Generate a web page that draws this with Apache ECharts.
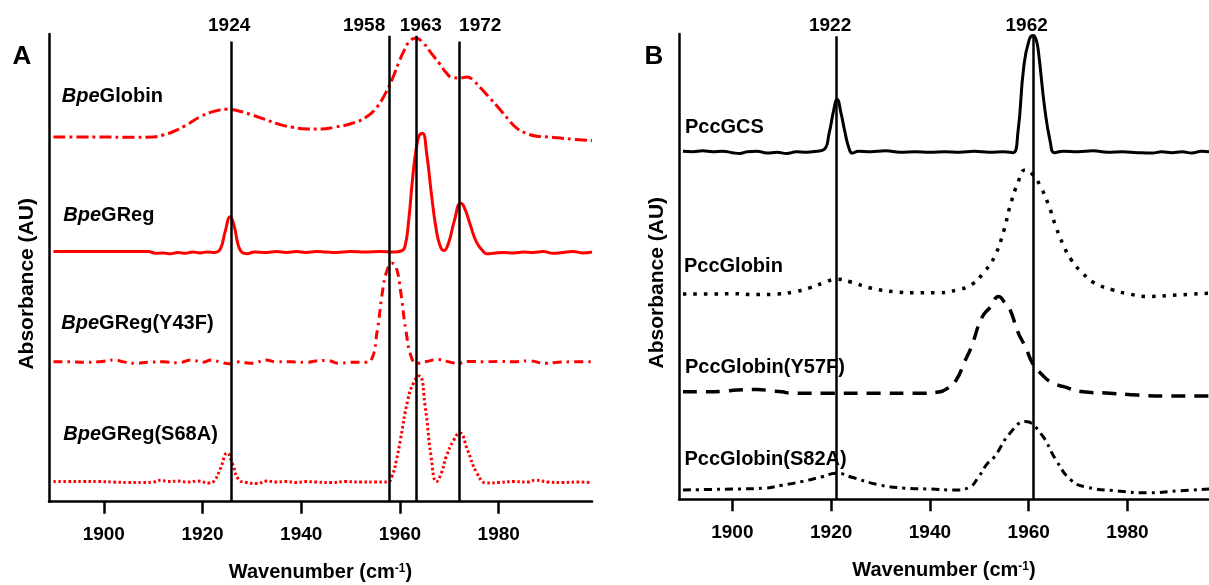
<!DOCTYPE html>
<html>
<head>
<meta charset="utf-8">
<script src="https://cdn.jsdelivr.net/npm/echarts@6/dist/echarts.min.js"></script>
<style>
html,body{margin:0;padding:0;background:#fff;}
#chart{width:1209px;height:585px;}
</style>
</head>
<body>
<div id="chart"></div>
<script>
// ---------- DATA ----------
const tickValues = [1900, 1920, 1940, 1960, 1980];

// Panel A : [wavenumber (cm-1), absorbance (AU, offset)]
const bpeGlobin = [[1889.8,7.80],[1895,7.80],[1900,7.80],[1905,7.79],[1910,7.80],[1912,7.84],[1914,7.91],[1916.5,8.04],[1919.5,8.23],[1922.5,8.35],[1925,8.39],[1927.5,8.35],[1929.7,8.28],[1932.5,8.18],[1935.2,8.08],[1938,8.01],[1941.4,7.97],[1944,7.97],[1946.9,8.01],[1950,8.08],[1953.1,8.22],[1955.2,8.42],[1957,8.72],[1958.5,9.05],[1959.8,9.40],[1960.9,9.66],[1962,9.85],[1963.2,9.91],[1964.8,9.80],[1966.4,9.58],[1968,9.37],[1969.3,9.18],[1970.6,9.07],[1972,9.06],[1973.7,9.08],[1975,8.99],[1976.4,8.84],[1978.3,8.62],[1980.3,8.38],[1982,8.17],[1983.4,8.01],[1985.5,7.88],[1988.1,7.81],[1990,7.80],[1992,7.78],[1995,7.75],[1998.9,7.72]];
const bpeGReg = [[1889.8,5.35],[1895,5.35],[1900,5.35],[1905,5.35],[1909,5.35],[1910.5,5.31],[1912,5.32],[1913.5,5.30],[1915,5.33],[1916.5,5.31],[1918,5.34],[1919.5,5.32],[1921,5.34],[1922.5,5.33],[1923.6,5.40],[1924.6,5.78],[1925.6,6.09],[1926.4,5.90],[1927.2,5.50],[1928,5.33],[1929,5.30],[1930.5,5.34],[1933,5.33],[1935,5.35],[1937,5.33],[1939,5.35],[1941,5.33],[1943,5.35],[1945,5.34],[1947,5.33],[1950,5.35],[1953,5.34],[1956,5.35],[1959,5.34],[1960.2,5.36],[1961.0,5.45],[1961.8,6.05],[1962.5,6.85],[1963.3,7.55],[1964.1,7.86],[1964.6,7.87],[1965.4,7.45],[1966.4,6.55],[1967.3,5.85],[1968.1,5.48],[1968.9,5.37],[1969.8,5.52],[1971,6.00],[1972.3,6.38],[1973,6.30],[1974.3,5.90],[1975.5,5.55],[1976.8,5.36],[1977.6,5.30],[1979,5.31],[1981,5.33],[1983,5.32],[1985,5.34],[1987,5.33],[1989,5.35],[1991,5.31],[1993,5.33],[1995,5.35],[1997,5.32],[1998.9,5.34]];
const bpeGRegY43F = [[1889.8,2.99],[1893,2.99],[1896,2.98],[1899,2.99],[1902.2,3.03],[1904,2.99],[1906.2,2.96],[1909,2.98],[1912,2.99],[1915,2.97],[1917.8,3.03],[1920,2.98],[1921.8,3.03],[1923.5,2.99],[1925.4,2.95],[1927.5,2.99],[1929.6,2.96],[1931,2.98],[1932.7,3.03],[1935,2.99],[1938,2.99],[1941,2.98],[1943,3.01],[1945.3,3.02],[1947.6,2.96],[1950,2.98],[1953,2.98],[1954.2,3.03],[1955.4,3.66],[1956.5,4.52],[1957.4,4.95],[1958.4,5.10],[1959.2,5.02],[1960.1,4.52],[1961.2,3.66],[1962.4,3.06],[1963.5,2.96],[1965,2.99],[1967.9,3.04],[1969.5,3.00],[1971.8,2.96],[1974,3.00],[1977,2.99],[1980,3.00],[1983,2.99],[1986,3.01],[1989.6,2.96],[1992,2.98],[1995,2.99],[1998.9,2.99]];
const bpeGRegS68A = [[1889.8,0.43],[1893,0.43],[1896,0.43],[1899,0.43],[1902,0.42],[1905,0.41],[1908,0.41],[1910,0.42],[1911.6,0.46],[1913,0.43],[1915,0.44],[1917,0.42],[1919,0.44],[1921.4,0.40],[1922.4,0.45],[1923.6,0.70],[1925,1.04],[1926.1,0.80],[1927.3,0.48],[1929,0.41],[1931,0.39],[1933,0.44],[1935,0.42],[1937,0.43],[1939,0.41],[1941,0.43],[1943,0.42],[1946,0.41],[1949,0.43],[1952,0.42],[1955,0.42],[1957.5,0.42],[1958.4,0.55],[1959.3,0.90],[1960.1,1.33],[1961.6,2.18],[1962.8,2.55],[1963.9,2.69],[1965.1,2.04],[1966.3,0.97],[1967.4,0.43],[1968.4,0.62],[1969.4,0.97],[1970.8,1.30],[1972.1,1.47],[1973.7,1.10],[1975.6,0.61],[1977.6,0.40],[1980,0.41],[1983,0.43],[1986,0.42],[1987.5,0.46],[1990,0.42],[1993,0.41],[1996,0.42],[1998.9,0.41]];

// Panel B
const pccGCS = [[1890,7.48],[1892,7.47],[1894,7.49],[1896,7.47],[1898,7.48],[1900,7.45],[1901.5,7.43],[1903,7.47],[1905,7.48],[1907,7.44],[1909,7.46],[1911,7.43],[1913,7.47],[1915,7.46],[1917,7.48],[1918.6,7.52],[1919.6,7.87],[1920.5,8.35],[1921.2,8.60],[1922,8.30],[1922.7,7.94],[1923.6,7.55],[1924.3,7.44],[1925.5,7.48],[1928,7.47],[1931,7.49],[1934,7.46],[1937,7.47],[1940,7.46],[1943,7.47],[1946,7.46],[1949,7.48],[1952,7.46],[1955,7.47],[1956.8,7.45],[1957.8,7.87],[1959,9.30],[1960.1,9.88],[1960.9,9.97],[1961.5,9.88],[1962.0,9.59],[1963.2,8.44],[1964.4,7.66],[1965.2,7.45],[1967,7.48],[1970,7.47],[1973,7.49],[1976,7.46],[1979,7.47],[1982,7.45],[1985,7.44],[1987,7.47],[1989,7.45],[1991,7.47],[1993,7.44],[1995,7.48],[1996.5,7.47]];
const pccGlobin = [[1890,4.41],[1895,4.41],[1900,4.42],[1905,4.40],[1909,4.41],[1912.6,4.46],[1915.5,4.54],[1918.5,4.65],[1921,4.73],[1924,4.67],[1928,4.54],[1933,4.46],[1937.5,4.44],[1942,4.44],[1945.5,4.50],[1948.4,4.61],[1951,4.89],[1953.1,5.22],[1955,5.79],[1956.2,6.29],[1957.8,6.80],[1959.3,7.08],[1960.8,6.98],[1962.4,6.72],[1964,6.33],[1965.5,5.86],[1967,5.47],[1968.6,5.15],[1971,4.85],[1973.3,4.65],[1977,4.50],[1980,4.42],[1984.2,4.36],[1990,4.39],[1996.5,4.43]];
const pccGlobinY57F = [[1890,2.31],[1895,2.31],[1898,2.32],[1901,2.35],[1905,2.36],[1908,2.33],[1910,2.31],[1912,2.28],[1920,2.28],[1930,2.28],[1938,2.28],[1941.4,2.30],[1943.5,2.38],[1945.3,2.56],[1947,2.95],[1948.4,3.28],[1950.5,3.90],[1952.3,4.14],[1953.9,4.36],[1955.2,4.22],[1956.2,4.08],[1957.8,3.60],[1959.3,3.28],[1960.9,2.90],[1962.4,2.71],[1964.5,2.52],[1967.1,2.42],[1971,2.31],[1976.4,2.28],[1982,2.24],[1988,2.22],[1996.5,2.22]];
const pccGlobinS82A = [[1890,0.20],[1895,0.21],[1900,0.22],[1906.4,0.24],[1910,0.30],[1914,0.38],[1918,0.48],[1921.2,0.56],[1924,0.48],[1929.7,0.31],[1935,0.24],[1940,0.22],[1945.3,0.20],[1948,0.26],[1949.9,0.49],[1951.5,0.75],[1953.1,0.92],[1956.2,1.42],[1959.3,1.67],[1962.4,1.42],[1965.5,0.85],[1968.6,0.41],[1971.8,0.26],[1978,0.18],[1984.2,0.14],[1990,0.18],[1996.5,0.22]];

// reference lines (label text, wavenumber position, top of line in AU)
const markLabelsA = ['1924', '1958', '1963', '1972'];
const markPosA = [1925.8, 1957.8, 1963.2, 1972.0];
const markTopA = [9.84, 9.96, 9.96, 9.84];
const markLabelsB = ['1922', '1962'];
const markPosB = [1921.0, 1961.0];
const markTopB = [9.95, 9.95];

const seriesNamesA = ['BpeGlobin', 'BpeGReg', 'BpeGReg(Y43F)', 'BpeGReg(S68A)'];
const seriesNamesB = ['PccGCS', 'PccGlobin', 'PccGlobin(Y57F)', 'PccGlobin(S82A)'];

// ---------- LAYOUT / STYLE ----------
const FONT = '"Liberation Sans", Arial, Helvetica, sans-serif';
const RED = '#ff0000';
const BLACK = '#000000';
const labelAnchorsA = [[1891.5, 8.67], [1891.8, 6.13], [1891.4, 3.81], [1891.8, 1.43]];
const labelAnchorsB = [[1890.4, 7.99], [1890.2, 5.00], [1890.4, 2.84], [1890.3, 0.85]];
const markLabelOffsetA = [-2, -25, 5, 21];
const markLabelOffsetB = [-6, -7];

const chart = echarts.init(document.getElementById('chart'), null, {renderer: 'canvas'});

function xAxisCfg(gridIndex, min, max) {
  return {
    type: 'value', gridIndex, min, max,
    axisLine: {show: true, lineStyle: {color: BLACK, width: 2.5}},
    axisTick: {show: true, inside: false, length: 12, customValues: tickValues, lineStyle: {color: BLACK, width: 2.5}},
    axisLabel: {show: true, customValues: tickValues, margin: 24, color: BLACK, fontFamily: FONT, fontWeight: 'bold', fontSize: 19,
      formatter: v => String(v)},
    splitLine: {show: false},
    name: 'Wavenumber (cm{sup|-1})',
    nameLocation: 'middle', nameGap: 61,
    nameTextStyle: {color: BLACK, fontFamily: FONT, fontWeight: 'bold', fontSize: 20,
      rich: {sup: {fontSize: 12, fontWeight: 'bold', fontFamily: FONT, color: BLACK, verticalAlign: 'top', padding: [0, 0, 8, 0]}}}
  };
}
function yAxisCfg(gridIndex) {
  return {
    type: 'value', gridIndex, min: 0, max: 10,
    axisLine: {show: true, lineStyle: {color: BLACK, width: 2.5}},
    axisTick: {show: false}, axisLabel: {show: false}, splitLine: {show: false},
    name: 'Absorbance (AU)', nameLocation: 'middle', nameGap: 11,
    nameTextStyle: {color: BLACK, fontFamily: FONT, fontWeight: 'bold', fontSize: 21, padding: [0, 32, 0, 0]}
  };
}
function lineSeries(name, data, axis, color, width, dash) {
  return {
    name, type: 'line', data, xAxisIndex: axis, yAxisIndex: axis,
    showSymbol: false, smooth: 0.5, animation: false, z: 2,
    lineStyle: {color, width, type: dash, cap: 'butt', join: 'round'}
  };
}
function markSeries(axis, pos, top) {
  return {
    type: 'line', data: [], xAxisIndex: axis, yAxisIndex: axis, z: 5, animation: false, silent: true,
    markLine: {
      silent: true, symbol: ['none', 'none'], animation: false, label: {show: false},
      lineStyle: {color: BLACK, width: 2.5, type: 'solid'},
      data: pos.map((p, i) => [{coord: [p, top[i]]}, {coord: [p, 0]}])
    }
  };
}

chart.setOption({
  backgroundColor: '#ffffff',
  animation: false,
  grid: [
    {left: 49, top: 34, width: 543, height: 467.7, containLabel: false, outerBoundsMode: 'none'},
    {left: 679, top: 34, width: 530, height: 465.3, containLabel: false, outerBoundsMode: 'none'}
  ],
  xAxis: [xAxisCfg(0, 1888.9, 1998.9), xAxisCfg(1, 1889.2, 1996.5)],
  yAxis: [yAxisCfg(0), yAxisCfg(1)],
  series: [
    lineSeries(seriesNamesA[0], bpeGlobin, 0, RED, 3, [12, 4, 3, 4]),
    lineSeries(seriesNamesA[1], bpeGReg, 0, RED, 3, 'solid'),
    lineSeries(seriesNamesA[2], bpeGRegY43F, 0, RED, 3, [9, 5, 2.5, 5]),
    lineSeries(seriesNamesA[3], bpeGRegS68A, 0, RED, 3, [2.5, 2.5]),
    lineSeries(seriesNamesB[0], pccGCS, 1, BLACK, 3, 'solid'),
    lineSeries(seriesNamesB[1], pccGlobin, 1, BLACK, 3.5, [3.5, 7]),
    lineSeries(seriesNamesB[2], pccGlobinY57F, 1, BLACK, 3.5, [14, 9]),
    lineSeries(seriesNamesB[3], pccGlobinS82A, 1, BLACK, 3, [8, 5, 3, 5]),
    markSeries(0, markPosA, markTopA),
    markSeries(1, markPosB, markTopB)
  ]
});

// ---------- TEXT ANNOTATIONS (placed through the axes) ----------
const graphics = [];
const baseFont = 'bold 19px ' + FONT;
const nameFont = 'bold 20px ' + FONT;
function richName(name) {
  return name.indexOf('Bpe') === 0 ? '{i|Bpe}{n|' + name.slice(3) + '}' : '{n|' + name + '}';
}
const rich = {
  i: {fontStyle: 'italic', fontWeight: 'bold', fontSize: 20, fontFamily: FONT, fill: BLACK},
  n: {fontWeight: 'bold', fontSize: 20, fontFamily: FONT, fill: BLACK}
};
function addSeriesLabels(gridIndex, names, anchors) {
  names.forEach((n, k) => {
    const p = chart.convertToPixel({gridIndex}, anchors[k]);
    graphics.push({type: 'text', x: p[0], y: p[1], z: 20, silent: true,
      style: {text: richName(n), rich, font: nameFont, fill: BLACK, textAlign: 'left', textVerticalAlign: 'middle'}});
  });
}
function addMarkLabels(gridIndex, labels, pos, offsets) {
  labels.forEach((t, k) => {
    const p = chart.convertToPixel({gridIndex}, [pos[k], 10]);
    graphics.push({type: 'text', x: p[0] + offsets[k], y: 26, z: 20, silent: true,
      style: {text: t, font: baseFont, fill: BLACK, textAlign: 'center', textVerticalAlign: 'middle'}});
  });
}
addSeriesLabels(0, seriesNamesA, labelAnchorsA);
addSeriesLabels(1, seriesNamesB, labelAnchorsB);
addMarkLabels(0, markLabelsA, markPosA, markLabelOffsetA);
addMarkLabels(1, markLabelsB, markPosB, markLabelOffsetB);
graphics.push({type: 'text', x: 22, y: 57, silent: true, style: {text: 'A', font: 'bold 26px ' + FONT, fill: BLACK, textAlign: 'center', textVerticalAlign: 'middle'}});
graphics.push({type: 'text', x: 654, y: 57, silent: true, style: {text: 'B', font: 'bold 26px ' + FONT, fill: BLACK, textAlign: 'center', textVerticalAlign: 'middle'}});
chart.setOption({graphic: graphics});
</script>
</body>
</html>
